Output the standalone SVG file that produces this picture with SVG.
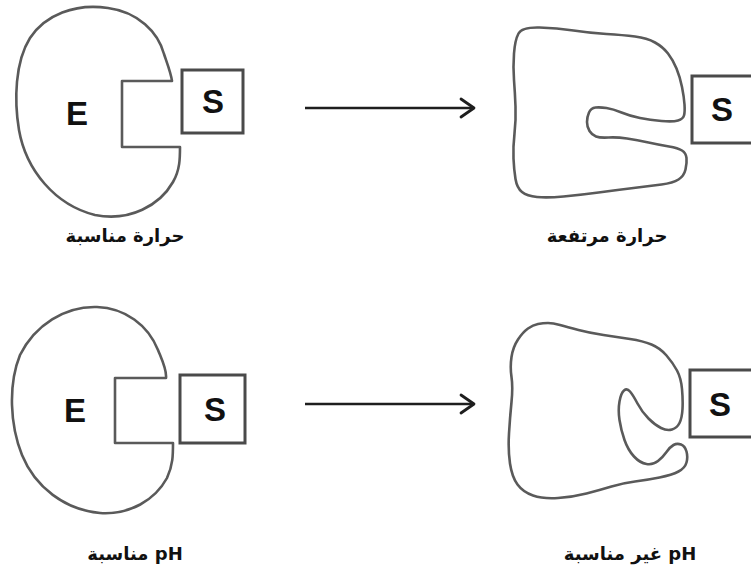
<svg xmlns="http://www.w3.org/2000/svg" width="751" height="571" viewBox="0 0 751 571">
  <style>
    .outline { fill: #ffffff; stroke: #5a5a5a; stroke-width: 2.6; stroke-linejoin: round; }
    .box { fill: #ffffff; stroke: #4a4a4a; stroke-width: 3; }
    .letter { font-family: "Liberation Sans", Arial, sans-serif; font-weight: bold; font-size: 33px; fill: #111111; text-anchor: middle; }
    .label { font-family: "DejaVu Sans", "Noto Sans", sans-serif; font-weight: bold; font-size: 18px; fill: #111111; text-anchor: middle; }
    .conn { stroke: #1e1e1e; stroke-width: 2.6; fill: none; }
  </style>
  <defs>
    <marker id="chev" markerUnits="userSpaceOnUse" markerWidth="20" markerHeight="24" refX="15" refY="12" orient="auto">
      <path d="M2,3 L15,12 L2,21" fill="none" stroke="#1e1e1e" stroke-width="2.8" stroke-linejoin="round" stroke-linecap="round"/>
    </marker>
  </defs>
  <rect width="751" height="571" fill="#ffffff"/>

  <g id="enzyme-normal-temp">
    <path class="outline" d="M172,81 C171,73 167,63 164,54 C158,32 138,12 108,8 C75,3 45,15 30,38 C15,62 14,100 19,130 C26,170 55,205 95,215 C130,222 160,205 173,182 C180,170 180,158 180,147 L122,147 L122,81 Z"/>
    <text class="letter" x="77" y="125">E</text>
  </g>
  <g id="substrate-normal-temp">
    <rect class="box" x="182" y="70" width="61" height="63"/>
    <text class="letter" x="213" y="113">S</text>
  </g>
  <text class="label" x="125" y="242" direction="rtl">حرارة مناسبة</text>

  <g id="enzyme-high-temp">
    <path class="outline" d="M518.5,33.5 Q522,27 539.5,27.5 Q557,28 573.5,30.5 Q590,33 606.5,34 Q623,35 635,36.5 Q647,38 655,42.5 Q663,47 668,53.5 Q673,60 676.5,68.5 Q680,77 682,87 Q684,97 684.5,104.5 Q685,112 684,115.5 Q683,119 678,120.5 Q673,122 661.5,121 Q650,120 640,118 Q630,116 621.5,112.5 Q613,109 606.5,108 Q600,107 595.5,107.5 Q591,108 589,112.5 Q587,117 587,122 Q587,127 589.5,131 Q592,135 596,136.5 Q600,138 608.5,137.5 Q617,137 627,138.5 Q637,140 648.5,142.5 Q660,145 669,146.5 Q678,148 682,150.5 Q686,153 686.5,158 Q687,163 685.5,169.5 Q684,176 678.5,179.5 Q673,183 661.5,184.5 Q650,186 633.5,188 Q617,190 598.5,192.5 Q580,195 563.5,196.5 Q547,198 537,197 Q527,196 522,192 Q517,188 515.5,179 Q514,170 513.5,158.5 Q513,147 514.5,133.5 Q516,120 515.5,106.5 Q515,93 514,80 Q513,67 514,53.5 Q515,40 518.5,33.5 Z"/>
  </g>
  <g id="substrate-high-temp">
    <rect class="box" x="692" y="76" width="70" height="67"/>
    <text class="letter" x="722" y="121">S</text>
  </g>
  <text class="label" x="607" y="242" direction="rtl">حرارة مرتفعة</text>

  <g id="enzyme-normal-ph">
    <path class="outline" d="M166,378 C167,370 162,360 158,350 C148,325 125,308 97,307 C65,306 35,325 20,355 C8,385 10,425 22,455 C35,487 65,510 100,513 C130,515 155,500 167,478 C173,465 173,455 173,443 L115,443 L115,378 Z"/>
    <text class="letter" x="75" y="422">E</text>
  </g>
  <g id="substrate-normal-ph">
    <rect class="box" x="180" y="375" width="65" height="68"/>
    <text class="letter" x="215" y="421">S</text>
  </g>
  <text class="label" x="135" y="560" direction="rtl">pH مناسبة</text>

  <g id="enzyme-bad-ph">
    <path class="outline" d="M538,324 Q543,323 548,323 Q553,323 560,325 Q567,327 578.5,330 Q590,333 603.5,335 Q617,337 630,339 Q643,341 651.5,344.5 Q660,348 666.5,355.5 Q673,363 677,370.5 Q681,378 682,389 Q683,400 682.5,409 Q682,418 679.5,423 Q677,428 672,429.5 Q667,431 661,428 Q655,425 648.5,418.5 Q642,412 637.5,403.5 Q633,395 630,391.5 Q627,388 624,390.5 Q621,393 619.5,401.5 Q618,410 619.5,420 Q621,430 624.5,440 Q628,450 634,456.5 Q640,463 646.5,464 Q653,465 658,461 Q663,457 666.5,452 Q670,447 673.5,445 Q677,443 681,444.5 Q685,446 686.5,451.5 Q688,457 686.5,462.5 Q685,468 678.5,471.5 Q672,475 659.5,477.5 Q647,480 635,481.5 Q623,483 611.5,486.5 Q600,490 586.5,493.5 Q573,497 558,498 Q543,499 533,495.5 Q523,492 517.5,484.5 Q512,477 510,463.5 Q508,450 509,433.5 Q510,417 511.5,402 Q513,387 511.5,377 Q510,367 511.5,357 Q513,347 518,339.5 Q523,332 528,328.5 Q533,325 538,324 Z"/>
  </g>
  <g id="substrate-bad-ph">
    <rect class="box" x="690" y="370" width="70" height="67"/>
    <text class="letter" x="720" y="416">S</text>
  </g>
  <text class="label" x="630" y="560" direction="rtl">pH غير مناسبة</text>

  <g id="connectors">
    <line class="conn" x1="305" y1="108" x2="474" y2="108" marker-end="url(#chev)"/>
    <line class="conn" x1="305" y1="404" x2="474" y2="404" marker-end="url(#chev)"/>
  </g>
</svg>
